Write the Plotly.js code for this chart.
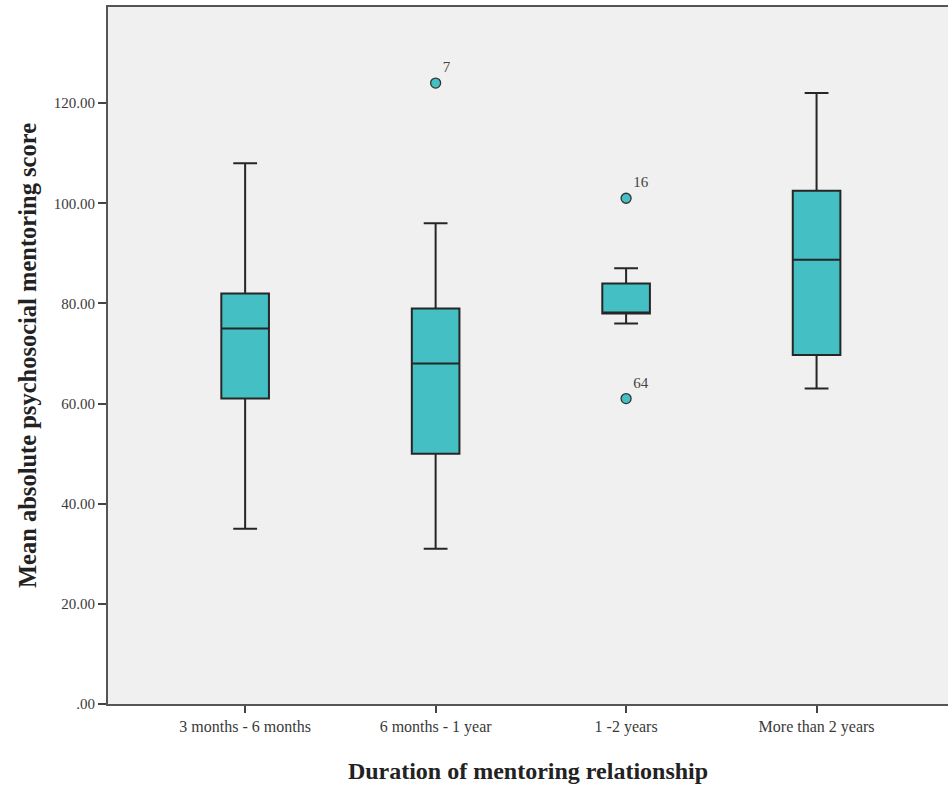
<!DOCTYPE html>
<html>
<head>
<meta charset="utf-8">
<script src="https://cdn.plot.ly/plotly-3.0.1.min.js"></script>
<style>html,body{margin:0;padding:0;background:#fff;}#chart{width:948px;height:785px;}</style>
</head>
<body>
<div id="chart"></div>
<script>
const categories = ["3 months - 6 months", "6 months - 1 year", "1 -2 years", "More than 2 years"];
const lowerFence = [35, 31, 76, 63];
const q1 = [61, 50, 78, 69.7];
const median = [75, 68, 78, 88.7];
const q3 = [82, 79, 84, 102.5];
const upperFence = [108, 96, 87, 122];

const outlierCategory = ["6 months - 1 year", "1 -2 years", "1 -2 years"];
const outlierValue = [124, 101, 61];
const outlierLabel = ["7", "16", "64"];

const yTickVals = [0, 20, 40, 60, 80, 100, 120];
const yTickText = [".00", "20.00", "40.00", "60.00", "80.00", "100.00", "120.00"];

const teal = "#44bfc3";
const serif = "Liberation Serif, Times New Roman, serif";

const traces = [
  {
    type: "box",
    x: categories,
    q1: q1,
    median: median,
    q3: q3,
    lowerfence: lowerFence,
    upperfence: upperFence,
    fillcolor: teal,
    line: {color: "#262626", width: 2},
    width: 0.25,
    whiskerwidth: 0.5,
    boxpoints: false,
    hoverinfo: "skip",
    showlegend: false
  },
  {
    type: "scatter",
    mode: "markers+text",
    x: outlierCategory,
    y: outlierValue,
    text: outlierLabel,
    textposition: "top right",
    textfont: {family: serif, size: 15, color: "#444"},
    marker: {size: 10, color: teal, line: {color: "#333", width: 1.3}},
    cliponaxis: false,
    showlegend: false,
    hoverinfo: "skip"
  }
];

const layout = {
  width: 948,
  height: 785,
  margin: {l: 108, r: 0, t: 7, b: 81},
  paper_bgcolor: "#ffffff",
  plot_bgcolor: "#f0f0f0",
  font: {family: serif, color: "#333"},
  showlegend: false,
  xaxis: {
    type: "category",
    categoryorder: "array",
    categoryarray: categories,
    range: [-0.72, 3.69],
    showgrid: false,
    zeroline: false,
    showline: true,
    linecolor: "#555",
    linewidth: 2,
    mirror: true,
    ticks: "outside",
    ticklen: 7,
    tickwidth: 2,
    tickcolor: "#444",
    tickfont: {family: serif, size: 16, color: "#3a3a3a"},
    title: {text: "<b>Duration of mentoring relationship</b>", font: {family: serif, size: 24, color: "#222"}, standoff: 27}
  },
  yaxis: {
    range: [0, 139.2],
    tickvals: yTickVals,
    ticktext: yTickText,
    showgrid: false,
    zeroline: false,
    showline: true,
    linecolor: "#555",
    linewidth: 2,
    mirror: true,
    ticks: "outside",
    ticklen: 8,
    tickwidth: 2,
    tickcolor: "#444",
    tickfont: {family: serif, size: 15, color: "#3a3a3a"},
    title: {text: "<b>Mean absolute psychosocial mentoring score</b>", font: {family: serif, size: 24.5, color: "#222"}, standoff: 10}
  }
};

Plotly.newPlot("chart", traces, layout, {displayModeBar: false, staticPlot: true});
</script>
</body>
</html>
